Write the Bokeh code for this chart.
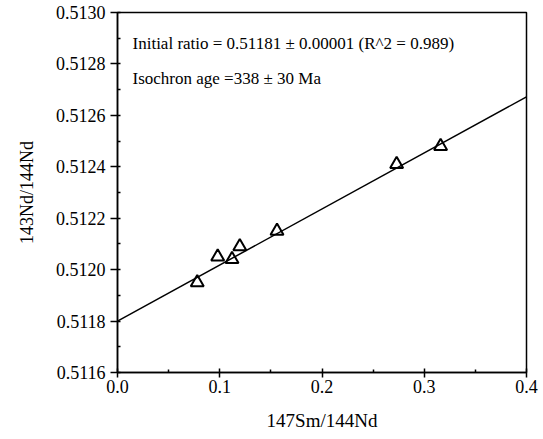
from bokeh.plotting import figure
from bokeh.models import Range1d, Label, FixedTicker, NumeralTickFormatter
from bokeh.embed import file_html
from bokeh.resources import INLINE

# Data
sm_nd = [0.078, 0.098, 0.112, 0.1196, 0.156, 0.273, 0.316]
nd_nd = [0.51195, 0.51205, 0.51204, 0.51209, 0.51215, 0.51241, 0.51248]

# Isochron fit line
fit_x = [0.0, 0.4]
intercept = 0.51180
slope = 0.00218
fit_y = [intercept + slope * v for v in fit_x]

x_ticks = [0.0, 0.1, 0.2, 0.3, 0.4]
x_minor = [0.05, 0.15, 0.25, 0.35]
y_ticks = [0.5116, 0.5118, 0.5120, 0.5122, 0.5124, 0.5126, 0.5128, 0.5130]
y_minor = [0.5117, 0.5119, 0.5121, 0.5123, 0.5125, 0.5127, 0.5129]

ann1 = "Initial ratio = 0.51181 \u00b1 0.00001 (R^2 = 0.989)"
ann2 = "Isochron age =338 \u00b1 30 Ma"

FONT = "Liberation Serif"

p = figure(width=543, height=439, output_backend="svg", toolbar_location=None,
           x_range=Range1d(0.0, 0.4), y_range=Range1d(0.5116, 0.5130),
           min_border_left=117, min_border_right=17, min_border_top=12, min_border_bottom=67)

p.background_fill_color = "white"
p.border_fill_color = "white"
p.outline_line_color = "black"
p.outline_line_width = 1.5
p.xgrid.visible = False
p.ygrid.visible = False

p.line(fit_x, fit_y, line_color="black", line_width=1.5)
p.scatter(sm_nd, nd_nd, marker="triangle", size=13, fill_color=None,
          line_color="black", line_width=2)

p.xaxis.ticker = FixedTicker(ticks=x_ticks, minor_ticks=x_minor)
p.yaxis.ticker = FixedTicker(ticks=y_ticks, minor_ticks=y_minor)
p.xaxis.formatter = NumeralTickFormatter(format="0.0")
p.yaxis.formatter = NumeralTickFormatter(format="0.0000")

for ax in (p.xaxis, p.yaxis):
    ax.axis_line_color = "black"
    ax.axis_line_width = 1.5
    ax.major_tick_line_color = "black"
    ax.major_tick_line_width = 1.5
    ax.minor_tick_line_color = "black"
    ax.minor_tick_line_width = 1.5
    ax.major_label_text_font = FONT
    ax.major_label_text_font_size = "18px"
    ax.major_label_text_color = "black"
    ax.axis_label_text_font = FONT
    ax.axis_label_text_font_style = "normal"
    ax.axis_label_text_color = "black"

p.xaxis.major_tick_in = 4
p.xaxis.major_tick_out = 5
p.xaxis.minor_tick_in = 3
p.xaxis.minor_tick_out = 0
p.xaxis.major_label_standoff = 2
p.xaxis.axis_label = "147Sm/144Nd"
p.xaxis.axis_label_text_font_size = "19px"
p.xaxis.axis_label_standoff = 14

p.yaxis.major_tick_in = 3
p.yaxis.major_tick_out = 7
p.yaxis.minor_tick_in = 3
p.yaxis.minor_tick_out = 0
p.yaxis.major_label_standoff = 5
p.yaxis.axis_label = "143Nd/144Nd"
p.yaxis.axis_label_text_font_size = "18px"
p.yaxis.axis_label_standoff = 16

p.add_layout(Label(x=0.0147, y=0.51288, text=ann1, text_font=FONT,
                   text_font_size="17px", text_color="black", text_baseline="alphabetic"))
p.add_layout(Label(x=0.0147, y=0.512745, text=ann2, text_font=FONT,
                   text_font_size="17px", text_color="black", text_baseline="alphabetic"))

open("out.html", "w").write(file_html(p, INLINE))
